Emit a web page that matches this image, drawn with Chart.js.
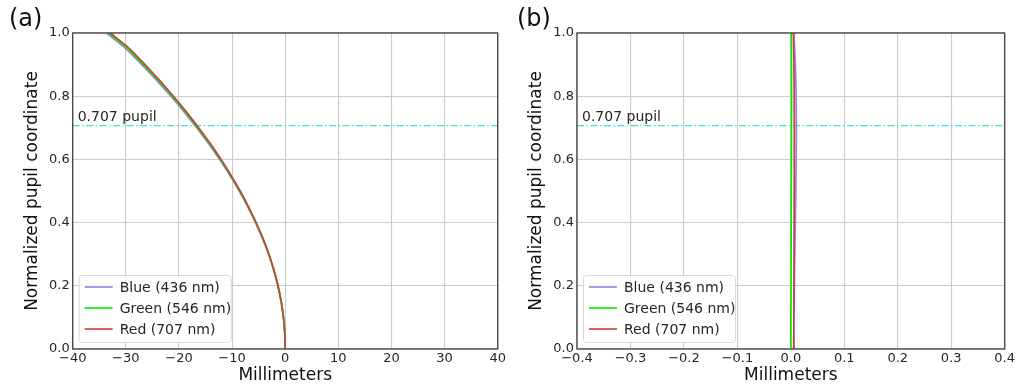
<!DOCTYPE html>
<html>
<head>
<meta charset="utf-8">
<script src="https://cdn.jsdelivr.net/npm/chart.js@4.4.1/dist/chart.umd.min.js"></script>
<style>
  html, body { margin: 0; padding: 0; background: #fff; }
  .panel { position: absolute; top: 0; height: 384px; }
  #wrapA { left: 0; width: 508px; }
  #wrapB { left: 508px; width: 509px; }
</style>
</head>
<body>
<div class="panel" id="wrapA"><canvas id="chartA"></canvas></div>
<div class="panel" id="wrapB"><canvas id="chartB"></canvas></div>
<script>
// normalized pupil coordinate (y of every curve)
const pupil = [0, 0.05, 0.1, 0.15, 0.2, 0.25, 0.3, 0.35, 0.4, 0.45, 0.5,
  0.55, 0.6, 0.65, 0.7, 0.75, 0.8, 0.85, 0.9, 0.95, 1.0];

// (a) longitudinal aberration, mm
const blueA = [0, -0.08, -0.34, -0.77, -1.39, -2.18, -3.14, -4.28, -5.6, -7.05, -8.66,
  -10.42, -12.35, -14.43, -16.66, -19.02, -21.53, -24.19, -27.0, -29.97, -33.65];
const greenA = [0, -0.08, -0.33, -0.76, -1.37, -2.15, -3.1, -4.23, -5.53, -6.97, -8.56,
  -10.31, -12.2, -14.26, -16.46, -18.79, -21.27, -23.9, -26.68, -29.6, -33.25];
const redA = [0, -0.08, -0.33, -0.75, -1.35, -2.12, -3.06, -4.18, -5.47, -6.9, -8.47,
  -10.2, -12.07, -14.1, -16.28, -18.58, -21.03, -23.63, -26.38, -29.28, -32.9];

// (b) corrected design, mm
const blueB = [0.0055, 0.0056, 0.0058, 0.0061, 0.0065, 0.0069, 0.0074, 0.0079, 0.0084, 0.0089, 0.0093,
  0.0097, 0.0100, 0.0102, 0.0103, 0.0102, 0.0099, 0.0093, 0.0084, 0.0071, 0.0055];
const greenB = [0.0002, 0.0002, 0.0002, 0.0003, 0.0003, 0.0004, 0.0005, 0.0006, 0.0007, 0.0008, 0.0009,
  0.0010, 0.0011, 0.0012, 0.0012, 0.0013, 0.0013, 0.0013, 0.0012, 0.0011, 0.0010];
const redB = [0.0055, 0.0055, 0.0055, 0.0056, 0.0057, 0.0058, 0.0059, 0.0060, 0.0061, 0.0062, 0.0063,
  0.0064, 0.0064, 0.0065, 0.0065, 0.0064, 0.0063, 0.0061, 0.0058, 0.0054, 0.0049];

const seriesNames = ["Blue (436 nm)", "Green (546 nm)", "Red (707 nm)"];
const seriesColors = ["#9a7fe0", "#00ee00", "#c8423a"];
const pupilMark = 0.707;
const pupilLabel = "0.707 pupil";

const xTicksA = [-40, -30, -20, -10, 0, 10, 20, 30, 40];
const xTicksB = [-0.4, -0.3, -0.2, -0.1, 0.0, 0.1, 0.2, 0.3, 0.4];
const yTicks = [0.0, 0.2, 0.4, 0.6, 0.8, 1.0];

const FONT = "'DejaVu Sans', sans-serif";
const TEXT = "#262626";

function pts(xs) {
  return xs.map((x, i) => ({ x: x, y: pupil[i] }));
}

// frame, panel letter, pupil label and legend inside the plot
const decorPlugin = {
  id: "decor",
  afterDraw(chart, args, opts) {
    const ctx = chart.ctx;
    const a = chart.chartArea;
    const ys = chart.scales.y;
    ctx.save();
    // frame
    ctx.strokeStyle = "#4a4a4a";
    ctx.lineWidth = 1.4;
    ctx.strokeRect(a.left, a.top, a.right - a.left, a.bottom - a.top);

    // panel letter
    ctx.fillStyle = "#111";
    ctx.font = "24px " + FONT;
    ctx.textBaseline = "middle";
    ctx.textAlign = "left";
    ctx.fillText(opts.letter, opts.letterX, 20);

    // pupil label
    ctx.font = "14px " + FONT;
    ctx.fillStyle = TEXT;
    ctx.textBaseline = "alphabetic";
    ctx.fillText(pupilLabel, a.left + 5, ys.getPixelForValue(pupilMark) - 5);

    // legend
    const bx = a.left + 6, by = a.bottom - 74, bw = 152, bh = 67;
    ctx.fillStyle = "rgba(255,255,255,0.85)";
    ctx.strokeStyle = "#d8d8d8";
    ctx.lineWidth = 1;
    ctx.beginPath();
    ctx.roundRect(bx + 0.5, by + 0.5, bw, bh, 3);
    ctx.fill();
    ctx.stroke();
    ctx.font = "14px " + FONT;
    ctx.textBaseline = "middle";
    for (let i = 0; i < 3; i++) {
      const ds = chart.data.datasets[i];
      const yy = by + 12 + i * 21;
      ctx.strokeStyle = ds.borderColor;
      ctx.lineWidth = 1.6;
      ctx.beginPath();
      ctx.moveTo(bx + 6, yy);
      ctx.lineTo(bx + 34, yy);
      ctx.stroke();
      ctx.fillStyle = TEXT;
      ctx.fillText(ds.label, bx + 41, yy + 1);
    }
    ctx.restore();
  }
};

function makeChart(id, xs, xTicks, xmin, xmax, letter, decimals) {
  const datasets = xs.map((arr, i) => ({
    label: seriesNames[i],
    data: pts(arr),
    borderColor: seriesColors[i],
    borderWidth: 1.7,
    pointRadius: 0,
    showLine: true,
    tension: 0.15,
    fill: false,
    order: 3 - i   // red drawn last, on top
  }));
  // dash-dot guide at 0.707 pupil
  datasets.push({
    label: "pupil",
    data: [{ x: xmin, y: pupilMark }, { x: xmax, y: pupilMark }],
    borderColor: "#3fe0d6",
    borderWidth: 1.4,
    borderDash: [7, 2.5, 1.5, 2.5],
    pointRadius: 0,
    showLine: true,
    order: 5
  });

  return new Chart(document.getElementById(id), {
    type: "scatter",
    data: { datasets: datasets },
    options: {
      responsive: true,
      maintainAspectRatio: false,
      animation: false,
      layout: { padding: { top: 33, right: 5, left: 0, bottom: 0 } },
      plugins: {
        legend: { display: false },
        tooltip: { enabled: false },
        decor: { letter: letter, letterX: 9 }
      },
      scales: {
        x: {
          type: "linear",
          min: xmin,
          max: xmax,
          afterBuildTicks: (s) => { s.ticks = xTicks.map((v) => ({ value: v })); },
          afterFit: (s) => { s.height = 35; },
          grid: { color: "#cbcbcb", lineWidth: 1.1, drawTicks: false },
          border: { display: false },
          ticks: {
            padding: 2,
            maxRotation: 0,
            autoSkip: false,
            color: TEXT,
            font: { family: FONT, size: 13 },
            callback: (v) => {
              const s = decimals ? Math.abs(v).toFixed(decimals) : String(Math.abs(v));
              return v < 0 ? "\u2212" + s : s;
            }
          },
          title: {
            display: true,
            text: "Millimeters",
            color: "#111",
            font: { family: FONT, size: 17 },
            padding: { top: 0, bottom: -2 }
          }
        },
        y: {
          type: "linear",
          min: 0,
          max: 1,
          afterBuildTicks: (s) => { s.ticks = yTicks.map((v) => ({ value: v })); },
          afterFit: (s) => { s.width = decimals ? 69 : 72.7; },
          grid: { color: "#cbcbcb", lineWidth: 1.1, drawTicks: false },
          border: { display: false },
          ticks: {
            padding: 3,
            color: TEXT,
            font: { family: FONT, size: 13 },
            callback: (v) => v.toFixed(1)
          },
          title: {
            display: true,
            text: "Normalized pupil coordinate",
            color: "#111",
            font: { family: FONT, size: 17 },
            padding: { top: decimals ? 18 : 22, bottom: 0 }
          }
        }
      }
    },
    plugins: [decorPlugin]
  });
}

makeChart("chartA", [blueA, greenA, redA], xTicksA, -40, 40, "(a)", 0);
makeChart("chartB", [blueB, greenB, redB], xTicksB, -0.4, 0.4, "(b)", 1);
</script>
</body>
</html>
